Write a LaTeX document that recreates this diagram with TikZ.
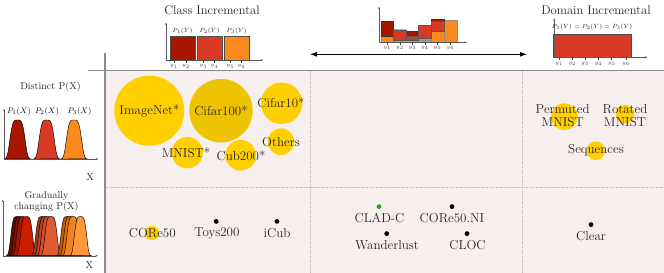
\documentclass[tikz,border=0pt]{standalone}
\usetikzlibrary{arrows.meta}
\definecolor{bgc}{HTML}{F6EFED}
\definecolor{gold}{HTML}{FFCF00}
\definecolor{goldd}{HTML}{EEC300}
\definecolor{ca}{HTML}{A81500}
\definecolor{cb}{HTML}{D93A26}
\definecolor{cc}{HTML}{FA8A1E}
\definecolor{framec}{HTML}{8A8A8A}
\definecolor{gridc}{HTML}{BDBDBD}
\definecolor{dotg}{HTML}{22A822}
\definecolor{ga1}{HTML}{5E0C00}
\definecolor{ga2}{HTML}{7E1200}
\definecolor{ga3}{HTML}{A01800}
\definecolor{ga4}{HTML}{CC1C00}
\definecolor{gb1}{HTML}{A0381F}
\definecolor{gb2}{HTML}{B8432A}
\definecolor{gb3}{HTML}{CC4E30}
\definecolor{gb4}{HTML}{E05A33}
\definecolor{gc1}{HTML}{C05A00}
\definecolor{gc2}{HTML}{DC6E00}
\definecolor{gc3}{HTML}{F08020}
\definecolor{gc4}{HTML}{FF9838}
\newcommand{\mybump}[5]{%
  \draw[fill=#5, draw=black, line width=0.45pt]
    (#1-#3,#4) -- plot[domain=#1-#3:#1+#3, samples=70, smooth]
    (\x, {#4-39*exp(-((\x-#1)*(\x-#1)/(#2*#2))*((\x-#1)*(\x-#1)/(#2*#2)))}) -- cycle;}
\begin{document}
\begin{tikzpicture}[x=1pt,y=-1pt,
  ds/.style={font=\fontsize{13}{13.3}\selectfont, text=black!85, inner sep=0pt, align=center},
  head/.style={font=\fontsize{12.5}{14}\selectfont, text=black!85, inner sep=0pt},
  side/.style={font=\fontsize{10}{11}\selectfont, text=black!85, inner sep=0pt, align=center},
  bub/.style={circle, fill=gold, draw=none, inner sep=0pt},
  dotb/.style={circle, fill=black, draw=none, inner sep=0pt, minimum size=4.8pt},
  ax/.style={draw=black!65, line width=0.4pt, -{Stealth[length=2.2pt,width=2pt]}},
  barb/.style={draw=black!70, line width=0.45pt},
  tk/.style={draw=black!75, line width=0.6pt},
  tl/.style={font=\fontsize{5}{5}\selectfont, text=black!75, inner sep=0pt},
  pl/.style={font=\fontsize{6.3}{7}\selectfont, text=black!85, inner sep=0pt},
  gridl/.style={draw=gridc, line width=0.5pt, dash pattern=on 1.5pt off 1pt},
  framel/.style={draw=framec, line width=1.2pt}]
\useasboundingbox (0,0) rectangle (664,273);

% background panel
\fill[bgc] (106,71) rectangle (664,273);
\draw[gridl] (310,71) -- (310,273);
\draw[gridl] (522.5,71) -- (522.5,273);
\draw[gridl] (106,187) -- (664,187);
\draw[framel] (88,70.5) -- (664,70.5);
\draw[framel] (105,53) -- (105,273);

% headings
\node[head] (hci) at (212,10) {Class Incremental};
\node[head] (hdi) at (596,10) {Domain Incremental};

% class incremental histogram
\fill[ca] (170,36.7) rectangle (195,60);
\fill[cb] (196.9,36.7) rectangle (221.9,60);
\fill[cc] (224.1,36.7) rectangle (249.1,60);
\draw[barb] (170,36.7) rectangle (195,60);
\draw[barb] (196.9,36.7) rectangle (221.9,60);
\draw[barb] (224.1,36.7) rectangle (249.1,60);
\coordinate (ca0) at (166,60);
\coordinate (ca1) at (166,22.7);
\coordinate (ca2) at (263,60);
\draw[ax] (ca0) -- (ca1);
\draw[ax] (ca0) -- (ca2);
\node[pl] (cp1) at (182.5,30.5) {$P_1(Y)$};
\node[pl] (cp2) at (209.4,30.5) {$P_2(Y)$};
\node[pl] (cp3) at (236.6,30.5) {$P_3(Y)$};
\foreach \xx/\ll [count=\i] in {174/1,186/2,203.5/3,214.5/4,230.5/5,241.5/6}{
  \draw[tk] (\xx,59.5) -- (\xx,62.5);
  \node[tl] (cy\i) at (\xx,66.5) {$y_{\ll}$};
}

% middle histogram
\fill[cc] (381,36.7) rectangle (393.7,42.3);
\fill[cc] (393.7,40) rectangle (406.3,42.3);
\fill[cc] (406.3,40) rectangle (418.7,42.3);
\fill[cc] (418.7,38.3) rectangle (431,42.3);
\fill[cc] (431,31.7) rectangle (444,42.3);
\fill[cc] (444,20.7) rectangle (457,42.3);
\fill[ca] (381,21.7) rectangle (393.7,36.7);
\fill[ca] (406.3,31.7) rectangle (418.7,36);
\fill[ca] (431,19.3) rectangle (444,21);
\fill[cb] (393.7,30) rectangle (406.3,40);
\fill[cb] (406.3,36) rectangle (418.7,40);
\fill[cb] (418.7,25.3) rectangle (431,38.3);
\fill[cb] (431,21) rectangle (444,31.7);
\draw[draw=black!45, line width=0.45pt] (381,42.3) rectangle (393.7,36.7) (444,42.3) rectangle (457,20.7)
  (393.7,42.3) -- (393.7,40) -- (431,40) (418.7,42.3)--(418.7,38.3)--(431,38.3) (431,42.3)--(431,31.7)--(444,31.7);
\draw[draw=black!80, line width=0.55pt] (381,36.7) rectangle (393.7,21.7) (406.3,31.7) rectangle (418.7,36) (431,19.3) rectangle (444,21);
\draw[draw=black!65, line width=0.5pt] (393.7,30) rectangle (406.3,40) (406.3,36) rectangle (418.7,40)
  (418.7,25.3) rectangle (431,38.3) (431,21) rectangle (444,31.7);
\draw[draw=black!30, line width=0.4pt] (393.7,29.3) -- (406.3,29.3);
\coordinate (ma0) at (379,42.3);
\coordinate (ma1) at (379,6.7);
\coordinate (ma2) at (466.7,42.3);
\draw[ax] (ma0) -- (ma1);
\draw[ax] (ma0) -- (ma2);
\foreach \xx/\ll [count=\i] in {387.3/1,400/2,412.5/3,424.8/4,437.5/5,450.5/6}{
  \draw[tk] (\xx,41.8) -- (\xx,44.5);
  \node[tl] (my\i) at (\xx,48) {$y_{\ll}$};
}

% double arrow
\coordinate (al) at (310,54.3);
\coordinate (ar) at (527,54.3);
\draw[line width=1pt, {Latex[length=7pt,width=5pt]}-{Latex[length=7pt,width=5pt]}] (al) -- (ar);

% domain histogram
\fill[cb] (553.3,34.3) rectangle (631.7,57.3);
\draw[barb] (553.3,34.3) rectangle (631.7,57.3);
\coordinate (da0) at (554,57.3);
\coordinate (da1) at (554,18.3);
\coordinate (da2) at (647.3,57.3);
\draw[ax] (da0) -- (da1);
\draw[ax] (da0) -- (da2);
\node[pl, font=\fontsize{5.6}{6}\selectfont] (dpl) at (592,26.7) {$P_1(Y)=P_2(Y)=P_3(Y)$};
\foreach \xx/\ll [count=\i] in {559/1,572.3/2,585/3,598.3/4,611.7/5,626/6}{
  \draw[tk] (\xx,56.8) -- (\xx,59.8);
  \node[tl] (dy\i) at (\xx,64) {$y_{\ll}$};
}

% left: distinct P(X)
\node[side] (ldist) at (50.5,87.3) {Distinct P(X)};
\mybump{17.5}{8.3}{13}{159}{ca}
\mybump{46.7}{8.3}{13}{159}{cb}
\mybump{74}{8.3}{13}{159}{cc}
\coordinate (la0) at (4,159);
\coordinate (la1) at (4,109);
\coordinate (la2) at (98.3,159);
\draw[ax] (la0) -- (la1);
\draw[ax] (la0) -- (la2);
\node[font=\fontsize{8.5}{9}\selectfont, inner sep=0pt] (lp1) at (19,111.7) {$P_1(X)$};
\node[font=\fontsize{8.5}{9}\selectfont, inner sep=0pt] (lp2) at (47,111.7) {$P_2(X)$};
\node[font=\fontsize{8.5}{9}\selectfont, inner sep=0pt] (lp3) at (79.5,111.7) {$P_3(X)$};
\node[side] (lx1) at (90,177) {X};

% left: gradually changing
\node[side] (lgrad) at (46.5,195.5) {Gradually};
\node[side] (lchg) at (46.5,206.7) {changing P(X)};
\mybump{17}{6.8}{11}{255.7}{ga1}
\mybump{19.8}{6.8}{11}{255.7}{ga2}
\mybump{22.7}{6.8}{11}{255.7}{ga3}
\mybump{26.5}{6.8}{11}{255.7}{ga4}
\mybump{41.8}{6.8}{11}{255.7}{gb1}
\mybump{44.6}{6.8}{11}{255.7}{gb2}
\mybump{47.5}{6.8}{11}{255.7}{gb3}
\mybump{51}{6.8}{11}{255.7}{gb4}
\mybump{67}{6.8}{11}{255.7}{gc1}
\mybump{70}{6.8}{11}{255.7}{gc2}
\mybump{73}{6.8}{11}{255.7}{gc3}
\mybump{80.5}{6.8}{11}{255.7}{gc4}
\coordinate (ga0) at (2.7,255.7);
\coordinate (gaY) at (2.7,200);
\coordinate (gaX) at (97.7,255.7);
\draw[ax] (ga0) -- (gaY);
\draw[ax] (ga0) -- (gaX);
\node[side] (lx2) at (89.3,265.5) {X};

% class incremental bubbles
\node[bub, minimum size=70pt] (bimg) at (149.3,110.7) {};
\node[bub, fill=goldd, minimum size=63.4pt] (bc100) at (221,110.7) {};
\node[bub, minimum size=41.4pt] (bc10) at (281.7,103.3) {};
\node[bub, minimum size=26.6pt] (both) at (281,141.7) {};
\node[bub, minimum size=31.4pt] (bmn) at (187.3,152.7) {};
\node[bub, minimum size=30.6pt] (bcub) at (240.7,155.3) {};
\node[ds] (timg) at (149.5,110.5) {ImageNet*};
\node[ds] (tc100) at (221,110.5) {Cifar100*};
\node[ds] (tc10) at (281,103) {Cifar10*};
\node[ds] (toth) at (281,142) {Others};
\node[ds] (tmn) at (186,152.5) {MNIST*};
\node[ds] (tcub) at (241,155.5) {Cub200*};

% domain incremental bubbles
\node[bub, minimum size=26.6pt] (bperm) at (564.3,116.7) {};
\node[bub, minimum size=18.6pt] (brot) at (625,114.3) {};
\node[bub, minimum size=18.6pt] (bseq) at (595.7,150.7) {};
\node[ds] (tperm) at (562.7,115.5) {Permuted\\MNIST};
\node[ds] (trot) at (625,115.5) {Rotated\\MNIST};
\node[ds] (tseq) at (596,150) {Sequences};

% gradually changing row
\node[bub, minimum size=14.4pt] (bcore) at (152,233) {};
\node[ds] (tcore) at (152.3,233) {CORe50};
\node[dotb] (dtoys) at (216.2,221.4) {};
\node[ds] (ttoys) at (216.9,233) {Toys200};
\node[dotb] (dicub) at (277,221.4) {};
\node[ds] (ticub) at (277,233) {iCub};
\node[dotb, fill=dotg] (dclad) at (379,206.6) {};
\node[ds] (tclad) at (379.5,218) {CLAD-C};
\node[dotb] (dcni) at (452,206.6) {};
\node[ds] (tcni) at (452,218) {CORe50.NI};
\node[dotb] (dwand) at (386.7,233.6) {};
\node[ds] (twand) at (387,245.5) {Wanderlust};
\node[dotb] (dcloc) at (467,233.6) {};
\node[ds] (tcloc) at (467.5,245.5) {CLOC};
\node[dotb] (dclear) at (591,224.6) {};
\node[ds] (tclear) at (591,236.5) {Clear};
\end{tikzpicture}
\end{document}
